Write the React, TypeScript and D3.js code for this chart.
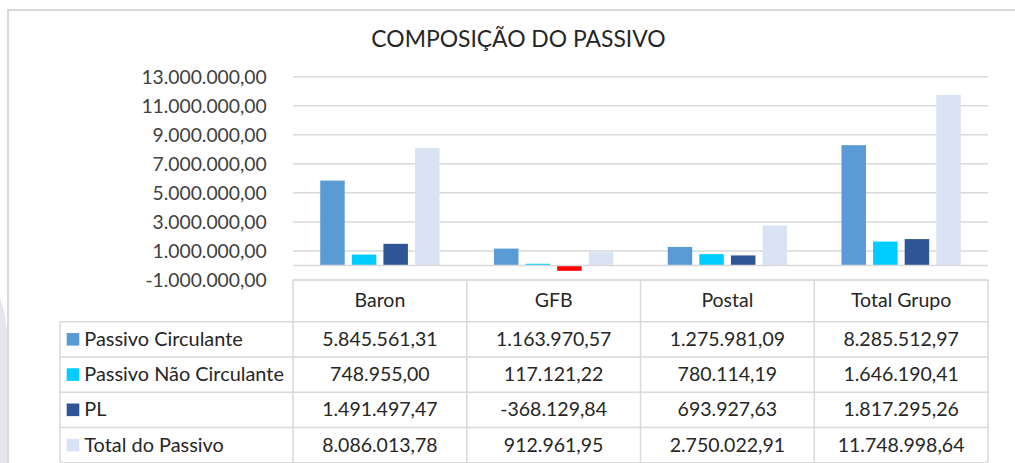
import React from 'react';
import * as d3 from 'd3';

const categories = ['Baron', 'GFB', 'Postal', 'Total Grupo'];
const seriesNames = ['Passivo Circulante', 'Passivo Não Circulante', 'PL', 'Total do Passivo'];
const passivoCirculante = [5845561.31, 1163970.57, 1275981.09, 8285512.97];
const passivoNaoCirculante = [748955.0, 117121.22, 780114.19, 1646190.41];
const pl = [1491497.47, -368129.84, 693927.63, 1817295.26];
const totalPassivo = [8086013.78, 912961.95, 2750022.91, 11748998.64];
const yTicks = [-1000000, 1000000, 3000000, 5000000, 7000000, 9000000, 11000000, 13000000];
const colors = ['#5B9BD5', '#00CCFF', '#2F5597', '#DAE3F3'];

const W = 1015;
const H = 463;
const font = 'Lato, "Open Sans", sans-serif';

const ptBR = d3.formatLocale({ decimal: ',', thousands: '.', grouping: [3], currency: ['R$', ''], minus: '-' });
const fmt = ptBR.format(',.2f');

const App: React.FC = () => {
  const values = [passivoCirculante, passivoNaoCirculante, pl, totalPassivo];

  const plotLeft = 293;
  const plotRight = 988;
  const y = d3.scaleLinear().domain([-1000000, 13000000]).range([280, 76.7]);
  const x0 = d3.scaleBand<string>().domain(categories).range([plotLeft, plotRight]);
  const groupW = 119.3;
  const x1 = d3.scaleBand<string>().domain(seriesNames).range([0, groupW]).paddingInner(0.225);

  // tabela de dados
  const tableTop = 280;
  const headerBottom = 321.7;
  const rowH = 35.25;
  const labelLeft = 60;
  const rowLines = seriesNames.map((_, i) => headerBottom + rowH * (i + 1));
  const colEdges = [...categories.map((c) => x0(c) as number), plotRight];

  return (
    <svg width={W} height={H} style={{ position: 'fixed', left: 0, top: 0, background: '#fff' }}>
      <polygon points="0,298 4,310 7,330 7,463 0,463" fill="#E6E6F0" />
      <rect x={8} y={10} width={1100} height={500} fill="#fff" stroke="#D9D9D9" strokeWidth={2} />

      <text x={518.5} y={46.7} textAnchor="middle" fontFamily={font} fontSize={22.9} fill="#262626">
        COMPOSIÇÃO DO PASSIVO
      </text>

      {yTicks.map((t) => (
        <g key={t}>
          <line x1={plotLeft} x2={plotRight} y1={y(t)} y2={y(t)} stroke="#D9D9D9" strokeWidth={1.5} />
          <text x={266.7} y={y(t) + 7} textAnchor="end" fontFamily={font} fontSize={19.3} fill="#404040">
            {fmt(t)}
          </text>
        </g>
      ))}

      {categories.map((c, ci) => {
        const off = (x0(c) as number) + (x0.bandwidth() - groupW) / 2;
        return (
          <g key={c}>
            {seriesNames.map((s, si) => {
              const v = values[si][ci];
              return (
                <rect
                  key={s}
                  x={off + (x1(s) as number)}
                  width={x1.bandwidth()}
                  y={Math.min(y(v), y(0))}
                  height={Math.abs(y(v) - y(0))}
                  fill={v < 0 ? '#FF0000' : colors[si]}
                />
              );
            })}
          </g>
        );
      })}
      <line x1={plotLeft} x2={plotRight} y1={y(0)} y2={y(0)} stroke="#D9D9D9" strokeWidth={1.5} />

      <g stroke="#D9D9D9" strokeWidth={1.5}>
        <line x1={plotLeft} x2={plotRight} y1={tableTop} y2={tableTop} />
        <line x1={labelLeft} x2={plotRight} y1={headerBottom} y2={headerBottom} />
        {rowLines.map((ly) => (
          <line key={ly} x1={labelLeft} x2={plotRight} y1={ly} y2={ly} />
        ))}
        <line x1={labelLeft} x2={labelLeft} y1={headerBottom} y2={rowLines[rowLines.length - 1]} />
        {colEdges.map((cx) => (
          <line key={cx} x1={cx} x2={cx} y1={tableTop} y2={rowLines[rowLines.length - 1]} />
        ))}
      </g>

      {categories.map((c) => (
        <text
          key={c}
          x={(x0(c) as number) + x0.bandwidth() / 2}
          y={(tableTop + headerBottom) / 2 + 6.5}
          textAnchor="middle"
          fontFamily={font}
          fontSize={19.5}
          fill="#262626"
        >
          {c}
        </text>
      ))}

      {seriesNames.map((s, si) => {
        const cy = headerBottom + rowH * si + rowH / 2;
        return (
          <g key={s}>
            <rect x={66.7} y={cy - 6.3} width={12.6} height={12.6} fill={colors[si]} />
            <text x={84.3} y={cy + 6.5} fontFamily={font} fontSize={19.9} fill="#262626">
              {s}
            </text>
            {categories.map((c, ci) => (
              <text
                key={c}
                x={(x0(c) as number) + x0.bandwidth() / 2}
                y={cy + 6.5}
                textAnchor="middle"
                fontFamily={font}
                fontSize={19.5}
                fill="#262626"
              >
                {fmt(values[si][ci])}
              </text>
            ))}
          </g>
        );
      })}
    </svg>
  );
};

export default App;
